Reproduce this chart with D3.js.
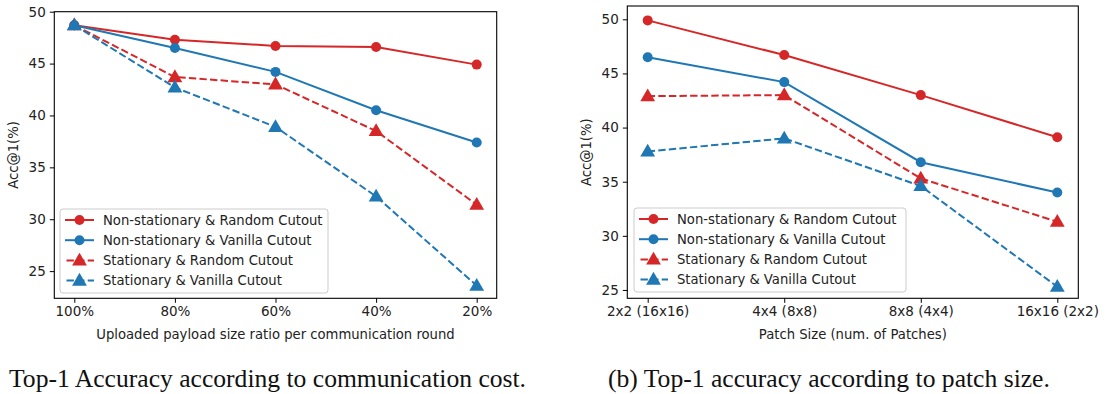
<!DOCTYPE html>
<html>
<head>
<meta charset="utf-8">
<script src="https://cdn.jsdelivr.net/npm/d3@7"></script>
<style>
  body { margin: 0; background: #fff; }
  svg { display: block; }
  text { font-family: "DejaVu Sans", sans-serif; fill: #222; }
  .caption { font-family: "Liberation Serif", "DejaVu Serif", serif; fill: #111; }
</style>
</head>
<body>
<div id="svg-container"></div>
<script>
//////////////  Data  //////////////
const seriesNames = [
  "Non-stationary & Random Cutout",
  "Non-stationary & Vanilla Cutout",
  "Stationary & Random Cutout",
  "Stationary & Vanilla Cutout"
];

// (a) communication cost
const payloadRatios = ["100%", "80%", "60%", "40%", "20%"];
const costNsRandom = [48.7, 47.3, 46.7, 46.6, 44.9];
const costNsVanilla = [48.7, 46.5, 44.2, 40.5, 37.4];
const costStRandom = [48.7, 43.7, 43.0, 38.5, 31.4];
const costStVanilla = [48.7, 42.7, 38.9, 32.2, 23.6];

// (b) patch size
const patchSizes = ["2x2 (16x16)", "4x4 (8x8)", "8x8 (4x4)", "16x16 (2x2)"];
const patchNsRandom = [49.9, 46.7, 43.0, 39.1];
const patchNsVanilla = [46.5, 44.2, 36.8, 34.0];
const patchStRandom = [42.9, 43.0, 35.3, 31.3];
const patchStVanilla = [37.8, 39.0, 34.6, 25.3];

const yTicks = [25, 30, 35, 40, 45, 50];

//////////////  Init  //////////////
const width = 1105;
const height = 394;
const red = "#d62728";
const blue = "#1f77b4";

const svg = d3.select("#svg-container").append("svg")
  .attr("width", width).attr("height", height);

const styles = [
  { color: red, dash: null, marker: "circle" },
  { color: blue, dash: null, marker: "circle" },
  { color: red, dash: "7.4,3.2", marker: "triangle" },
  { color: blue, dash: "7.4,3.2", marker: "triangle" }
];

function drawMarker(g, type, color, x, y) {
  if (type === "circle") {
    g.append("circle").attr("cx", x).attr("cy", y).attr("r", 5).attr("fill", color);
  } else {
    g.append("path")
      .attr("d", d3.symbol().type(d3.symbolTriangle).size(95)())
      .attr("transform", `translate(${x},${y + 0.8})`)
      .attr("fill", color);
  }
}

function drawPanel(p) {
  const g = svg.append("g");

  const xScale = d3.scalePoint().domain(p.cats).range(p.xRange);
  const yScale = d3.scaleLinear().domain(p.yDomain).range([p.bottom, p.top]);

  const line = d3.line()
    .x((d, i) => xScale(p.cats[i]))
    .y((d) => yScale(d));

  p.series.forEach((vals, k) => {
    const s = styles[k];
    g.append("path")
      .datum(vals)
      .attr("fill", "none")
      .attr("stroke", s.color)
      .attr("stroke-width", 2)
      .attr("stroke-dasharray", s.dash)
      .attr("d", line);
    vals.forEach((v, i) => drawMarker(g, s.marker, s.color, xScale(p.cats[i]), yScale(v)));
  });

  // frame
  g.append("rect")
    .attr("x", p.left).attr("y", p.top)
    .attr("width", p.right - p.left).attr("height", p.bottom - p.top)
    .attr("fill", "none").attr("stroke", "#000").attr("stroke-width", 1.1);

  // axes
  const xAxis = d3.axisBottom(xScale).tickSize(4.5).tickPadding(4).tickSizeOuter(0);
  const gx = g.append("g").attr("transform", `translate(0,${p.bottom})`).call(xAxis);
  gx.select(".domain").remove();
  gx.selectAll("text").attr("font-size", 13.5).attr("font-family", "DejaVu Sans").attr("fill", "#222");

  const yAxis = d3.axisLeft(yScale).tickValues(yTicks).tickSize(4.5).tickPadding(4);
  const gy = g.append("g").attr("transform", `translate(${p.left},0)`).call(yAxis);
  gy.select(".domain").remove();
  gy.selectAll("text").attr("font-size", 13.5).attr("font-family", "DejaVu Sans").attr("fill", "#222");

  g.append("text")
    .attr("x", (p.left + p.right) / 2).attr("y", p.bottom + 41)
    .attr("text-anchor", "middle").attr("font-size", 13.2)
    .text(p.xLabel);

  g.append("text")
    .attr("transform", `translate(${p.yLabelX},${(p.top + p.bottom) / 2}) rotate(-90)`)
    .attr("text-anchor", "middle").attr("font-size", 13.2)
    .text("Acc@1(%)");

  // legend
  const lg = g.append("g").attr("transform", `translate(${p.legend[0]},${p.legend[1]})`);
  lg.append("rect")
    .attr("x", 0).attr("y", 0).attr("width", p.legend[2]).attr("height", 84)
    .attr("rx", 3)
    .attr("fill", "#fff").attr("fill-opacity", 0.8)
    .attr("stroke", "#ccc").attr("stroke-width", 1);
  seriesNames.forEach((name, k) => {
    const s = styles[k];
    const yy = 11 + k * 20.2;
    lg.append("line")
      .attr("x1", 5).attr("x2", 34).attr("y1", yy).attr("y2", yy)
      .attr("stroke", s.color).attr("stroke-width", 2)
      .attr("stroke-dasharray", s.dash ? "7.4,3.2" : null)
      .attr("stroke-dashoffset", s.dash ? -1.5 : null);
    drawMarker(lg, s.marker, s.color, 19.5, yy);
    lg.append("text")
      .attr("x", 43).attr("y", yy).attr("dy", "0.35em")
      .attr("font-size", 13.2)
      .text(name);
  });

  svg.append("text")
    .attr("class", "caption")
    .attr("x", p.captionX).attr("y", 387)
    .attr("font-size", 25.6)
    .text(p.caption);
}

drawPanel({
  cats: payloadRatios,
  series: [costNsRandom, costNsVanilla, costStRandom, costStVanilla],
  left: 54.3, right: 496.7, top: 11.7, bottom: 298.3,
  xRange: [74.3, 476.7],
  yDomain: [22.38, 50],
  xLabel: "Uploaded payload size ratio per communication round",
  yLabelX: 18,
  legend: [60, 209, 268],
  caption: "Top-1 Accuracy according to communication cost.",
  captionX: 9
});

drawPanel({
  cats: patchSizes,
  series: [patchNsRandom, patchNsVanilla, patchStRandom, patchStVanilla],
  left: 627.3, right: 1078.3, top: 6, bottom: 298.3,
  xRange: [647.7, 1057.3],
  yDomain: [24.23, 51.23],
  xLabel: "Patch Size (num. of Patches)",
  yLabelX: 591,
  legend: [634, 208, 272],
  caption: "(b) Top-1 accuracy according to patch size.",
  captionX: 608
});
</script>
</body>
</html>
